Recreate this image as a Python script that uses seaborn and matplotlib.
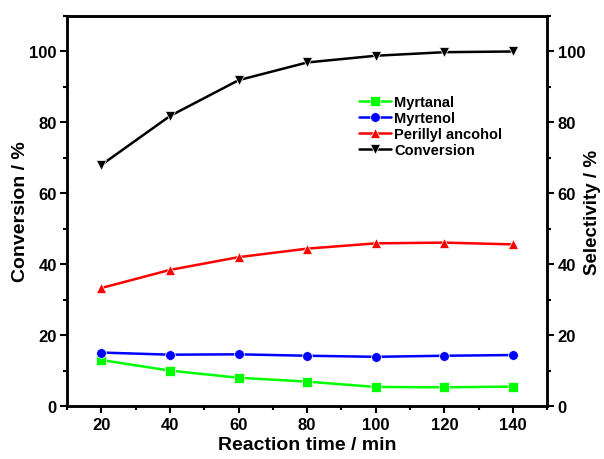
import matplotlib
matplotlib.use("Agg")
import matplotlib.pyplot as plt
from matplotlib.ticker import MultipleLocator
import seaborn as sns
import pandas as pd

sns.set_theme(style="ticks")
plt.rcParams["font.family"] = ["Liberation Sans", "DejaVu Sans"]
plt.rcParams["font.weight"] = "bold"
plt.rcParams["text.color"] = "black"
plt.rcParams["axes.labelcolor"] = "black"
plt.rcParams["xtick.color"] = "black"
plt.rcParams["ytick.color"] = "black"

time_min = [20, 40, 60, 80, 100, 120, 140]
myrtanal = [13.0, 10.0, 8.0, 6.9, 5.4, 5.3, 5.5]
myrtenol = [15.1, 14.5, 14.6, 14.2, 13.9, 14.2, 14.4]
perillyl = [33.3, 38.4, 42.0, 44.4, 45.9, 46.1, 45.6]
conversion = [68.0, 81.8, 91.9, 96.9, 98.8, 99.8, 100.0]

series_names = ["Myrtanal", "Myrtenol", "Perillyl ancohol", "Conversion"]
series_values = [myrtanal, myrtenol, perillyl, conversion]
colors = ["#00ff00", "#0000ff", "#ff0000", "#000000"]
markers = ["s", "o", "^", "v"]

df = pd.DataFrame(
    [(t, v, name) for name, vals in zip(series_names, series_values)
     for t, v in zip(time_min, vals)],
    columns=["time", "value", "series"],
)

fig = plt.figure(figsize=(6.04, 4.6), dpi=100)
ax = fig.add_axes([0.111, 0.115, 0.795, 0.848])

sns.lineplot(
    data=df, x="time", y="value", hue="series", style="series",
    hue_order=series_names, style_order=series_names,
    palette=dict(zip(series_names, colors)),
    markers=dict(zip(series_names, markers)),
    dashes=False, linewidth=1.8, markersize=7, markeredgewidth=0.5,
    ax=ax,
)

ax.set_xlim(10, 150)
ax.set_ylim(0, 110)
ax.xaxis.set_major_locator(MultipleLocator(20))
ax.xaxis.set_minor_locator(MultipleLocator(10))
ax.yaxis.set_major_locator(MultipleLocator(20))
ax.yaxis.set_minor_locator(MultipleLocator(10))
ax.set_xlabel("Reaction time / min", fontsize=14, fontweight="bold", labelpad=3)
ax.set_ylabel("Conversion / %", fontsize=14, fontweight="bold", labelpad=0)

ax2 = ax.twinx()
ax2.set_ylim(0, 110)
ax2.yaxis.set_major_locator(MultipleLocator(20))
ax2.yaxis.set_minor_locator(MultipleLocator(10))
ax2.set_ylabel("Selectivity / %", fontsize=13.5, fontweight="bold", labelpad=-1)

for a in (ax, ax2):
    for s in a.spines.values():
        s.set_linewidth(1.8)
        s.set_color("black")
    a.tick_params(which="major", length=5, width=1.5, direction="out",
                  labelsize=12, colors="black", pad=2.5)
    a.tick_params(which="minor", length=3, width=1.5, direction="out")
    for lbl in a.get_xticklabels() + a.get_yticklabels():
        lbl.set_fontweight("bold")

leg = ax.legend(
    loc="upper left", bbox_to_anchor=(0.58, 0.83), frameon=False,
    handlelength=2.2, handletextpad=0.25, labelspacing=0.12,
    prop={"weight": "bold", "size": 10.5},
)

fig.savefig("out.png", dpi=100)
